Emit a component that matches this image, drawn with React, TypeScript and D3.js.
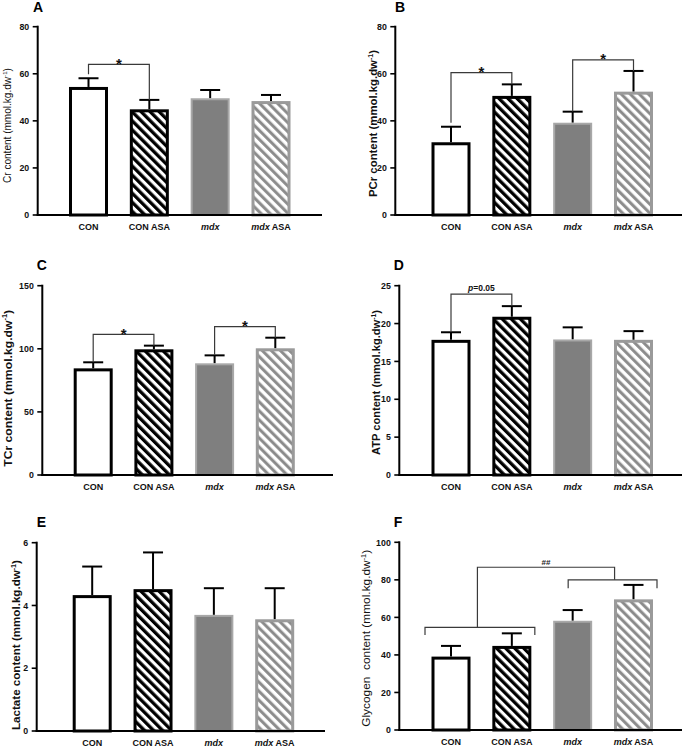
import React from "react";
import * as d3 from "d3";

const categories = ["CON", "CON ASA", "mdx", "mdx ASA"];

const crMean = [54.4, 44.9, 49.6, 48.4];
const crSem = [3.7, 4.0, 3.5, 2.6];
const pcrMean = [30.9, 50.6, 39.2, 52.4];
const pcrSem = [6.6, 4.9, 4.7, 8.8];
const tcrMean = [84.5, 99.6, 88.5, 100.4];
const tcrSem = [4.8, 2.9, 6.3, 8.4];
const atpMean = [17.85, 20.9, 17.9, 17.85];
const atpSem = [1.0, 1.4, 1.6, 1.15];
const lacMean = [4.33, 4.52, 3.7, 3.56];
const lacSem = [0.91, 1.17, 0.85, 0.99];
const glyMean = [39.1, 44.8, 58.2, 69.6];
const glySem = [5.7, 6.7, 5.7, 7.7];

const crTicks = [0, 20, 40, 60, 80];
const pcrTicks = [0, 20, 40, 60, 80];
const tcrTicks = [0, 50, 100, 150];
const atpTicks = [0, 5, 10, 15, 20, 25];
const lacTicks = [0, 2, 4, 6];
const glyTicks = [0, 20, 40, 60, 80, 100];

// pairwise significance brackets: [groupA, groupB, bracket value, left leg end, right leg end, label]
const crSig = [[0, 1, 64, 59.8, 48.9, "*"]];
const pcrSig = [
  [0, 1, 60.5, 39.2, 55.5, "*"],
  [2, 3, 65.9, 44.0, 61.2, "*"],
];
const tcrSig = [
  [0, 1, 111.5, 89.3, 102.5, "*"],
  [2, 3, 117.5, 95.2, 108.8, "*"],
];
const atpSig = [[0, 1, 23.9, 18.9, 22.4, "p=0.05"]];
const lacSig: any[] = [];
const glySig: any[] = [];
// grouped bracket for F: [lower group value, lower leg end, upper group value, upper leg end, connector value]
const glyGroupSig = [54.7, 50.6, 80.0, 75.5, 86.7];

const FONT = "'Liberation Sans', Arial, Helvetica, sans-serif";

type Panel = {
  letter: string;
  titleX: number;
  titleY: number;
  left: number;
  right: number;
  top: number;
  bottom: number;
  c0: number;
  c1: number;
  yMax: number;
  ticks: number[];
  mean: number[];
  sem: number[];
  sig: any[];
  label: string;
  labelX: number;
  labelY: number;
  labelSize: number;
  labelWeight: string;
  labelLen: number;
  xLabelY: number;
  group?: number[];
};

const panels: Panel[] = [
  { letter: "A", titleX: 33, titleY: 11.9, left: 37.7, right: 322, top: 26.7, bottom: 215, c0: 88.5, c1: 271, yMax: 80, ticks: crTicks, mean: crMean, sem: crSem, sig: crSig, label: "Cr content (mmol.kg.dw", labelX: 10.5, labelY: 125.5, labelSize: 10, labelWeight: "normal", labelLen: 115, xLabelY: 230 },
  { letter: "B", titleX: 395, titleY: 11.9, left: 395.3, right: 682, top: 26.7, bottom: 215, c0: 451, c1: 633.5, yMax: 80, ticks: pcrTicks, mean: pcrMean, sem: pcrSem, sig: pcrSig, label: "PCr content (mmol.kg.dw", labelX: 377, labelY: 123.5, labelSize: 11, labelWeight: "bold", labelLen: 147, xLabelY: 230 },
  { letter: "C", titleX: 36.7, titleY: 270.2, left: 42.3, right: 333, top: 285.7, bottom: 475, c0: 93.2, c1: 275.3, yMax: 150, ticks: tcrTicks, mean: tcrMean, sem: tcrSem, sig: tcrSig, label: "TCr content (mmol.kg.dw", labelX: 11.7, labelY: 388.3, labelSize: 11, labelWeight: "bold", labelLen: 157, xLabelY: 490 },
  { letter: "D", titleX: 393.7, titleY: 270.2, left: 399.3, right: 682, top: 285.7, bottom: 475, c0: 451, c1: 633.5, yMax: 25, ticks: atpTicks, mean: atpMean, sem: atpSem, sig: atpSig, label: "ATP content (mmol.kg.dw", labelX: 380.3, labelY: 382.5, labelSize: 11, labelWeight: "bold", labelLen: 145, xLabelY: 490 },
  { letter: "E", titleX: 36.7, titleY: 526.9, left: 36.7, right: 325, top: 542.7, bottom: 731, c0: 92.2, c1: 274.7, yMax: 6, ticks: lacTicks, mean: lacMean, sem: lacSem, sig: lacSig, label: "Lactate content (mmol.kg.dw", labelX: 20, labelY: 645, labelSize: 11, labelWeight: "bold", labelLen: 170, xLabelY: 746 },
  { letter: "F", titleX: 393.7, titleY: 526.9, left: 399.3, right: 682, top: 542.3, bottom: 730, c0: 451, c1: 633.5, yMax: 100, ticks: glyTicks, mean: glyMean, sem: glySem, sig: glySig, label: "Glycogen  content (mmol.kg.dw", labelX: 370.3, labelY: 638.3, labelSize: 11.5, labelWeight: "normal", labelLen: 177, xLabelY: 745, group: glyGroupSig },
];

const BAR_W = 39;
const CAP = 20;
const barStyles = [
  { fill: "#ffffff", stroke: "#000000", sw: 3 },
  { fill: "url(#hatchBlack)", stroke: "#000000", sw: 3 },
  { fill: "#7f7f7f", stroke: "#a8a8a8", sw: 2 },
  { fill: "url(#hatchGray)", stroke: "#9a9a9a", sw: 3 },
];

function XLabel({ name, x, y }: { name: string; x: number; y: number }) {
  const common = { x, y, textAnchor: "middle" as const, fontFamily: FONT, fontSize: 9, fontWeight: "bold" as const, fill: "#111" };
  if (name === "mdx") {
    return <text {...common}><tspan fontStyle="italic">mdx</tspan></text>;
  }
  if (name === "mdx ASA") {
    return <text {...common}><tspan fontStyle="italic">mdx</tspan> ASA</text>;
  }
  return <text {...common}>{name}</text>;
}

function PanelView({ p }: { p: Panel }) {
  const y = d3.scaleLinear().domain([0, p.yMax]).range([p.bottom, p.top]);
  const x = d3.scalePoint<string>().domain(categories).range([p.c0, p.c1]);
  const cx = (i: number) => x(categories[i]) as number;
  const bracketStroke = "#3a3a3a";
  return (
    <g>
      <text x={p.titleX} y={p.titleY} fontFamily={FONT} fontWeight="bold" fontSize={14} fill="#000">{p.letter}</text>
      {/* bars */}
      {categories.map((c, i) => {
        const st = barStyles[i];
        const xc = cx(i);
        const top = y(p.mean[i]);
        return (
          <g key={c}>
            <line x1={xc} x2={xc} y1={top} y2={y(p.mean[i] + p.sem[i])} stroke="#000" strokeWidth={2} />
            <line x1={xc - CAP / 2} x2={xc + CAP / 2} y1={y(p.mean[i] + p.sem[i])} y2={y(p.mean[i] + p.sem[i])} stroke="#000" strokeWidth={2} />
            <rect
              x={xc - BAR_W / 2 + st.sw / 2}
              y={top + st.sw / 2}
              width={BAR_W - st.sw}
              height={p.bottom - top - st.sw / 2}
              fill={st.fill}
              stroke={st.stroke}
              strokeWidth={st.sw}
            />
          </g>
        );
      })}
      {/* axes */}
      <line x1={p.left} x2={p.left} y1={p.top - 1} y2={p.bottom + 1} stroke="#000" strokeWidth={2} />
      <line x1={p.left - 1} x2={p.right} y1={p.bottom} y2={p.bottom} stroke="#000" strokeWidth={2} />
      {p.ticks.map((t) => (
        <g key={t}>
          <line x1={p.left - 5} x2={p.left} y1={y(t)} y2={y(t)} stroke="#000" strokeWidth={1.6} />
          <text x={p.left - 8.5} y={y(t) + 3.2} textAnchor="end" fontFamily={FONT} fontWeight="bold" fontSize={8.8} fill="#111">{t}</text>
        </g>
      ))}
      {categories.map((c, i) => (
        <XLabel key={c} name={c} x={cx(i)} y={p.xLabelY} />
      ))}
      {/* y label */}
      <text
        transform={`translate(${p.labelX},${p.labelY}) rotate(-90)`}
        textAnchor="middle"
        fontFamily={FONT}
        fontSize={p.labelSize}
        fontWeight={p.labelWeight}
        fill="#111"
        textLength={p.labelLen}
        lengthAdjust="spacingAndGlyphs"
        xmlSpace="preserve"
        style={{ whiteSpace: "pre" }}
      >
        {p.label}
        <tspan fontSize={p.labelSize * 0.62} dy={-p.labelSize * 0.4}>-1</tspan>
        <tspan dy={p.labelSize * 0.4}>)</tspan>
      </text>
      {/* significance brackets */}
      {p.sig.map((s, k) => {
        const [a, b, v, la, rb, lab] = s;
        const xa = cx(a);
        const xb = cx(b);
        const yy = y(v);
        const isStar = lab === "*";
        return (
          <g key={k}>
            <path d={`M${xa},${y(la)}V${yy}H${xb}V${y(rb)}`} fill="none" stroke={bracketStroke} strokeWidth={1.2} />
            {isStar ? (
              <text x={(xa + xb) / 2} y={yy + 4.5} textAnchor="middle" fontFamily={FONT} fontWeight="bold" fontSize={15} fill="#111">*</text>
            ) : (
              <text x={(xa + xb) / 2} y={yy - 3} textAnchor="middle" fontFamily={FONT} fontWeight="bold" fontSize={8.5} fill="#111">
                <tspan fontStyle="italic">p</tspan>=0.05
              </text>
            )}
          </g>
        );
      })}
      {p.group && (() => {
        const [lv, lend, uv, uend, cv] = p.group!;
        const l0 = cx(0) - 26;
        const l1 = cx(1) + 23;
        const u0 = cx(2) - 4.5;
        const u1 = cx(3) + 23.5;
        const lm = (l0 + l1) / 2 - 2.5;
        const um = (u0 + u1) / 2 + 2;
        return (
          <g>
            <path d={`M${l0},${y(lend)}V${y(lv)}H${l1}V${y(lend)}`} fill="none" stroke={bracketStroke} strokeWidth={1.2} />
            <path d={`M${u0},${y(uend)}V${y(uv)}H${u1}V${y(uend)}`} fill="none" stroke={bracketStroke} strokeWidth={1.2} />
            <path d={`M${lm},${y(lv)}V${y(cv)}H${um}V${y(uv)}`} fill="none" stroke={bracketStroke} strokeWidth={1.2} />
            <text x={(lm + um) / 2} y={y(cv) - 2} textAnchor="middle" fontFamily={FONT} fontWeight="bold" fontSize={8} fill="#222">##</text>
          </g>
        );
      })()}
    </g>
  );
}

export default function App() {
  return (
    <svg width={685} height={747} viewBox="0 0 685 747" style={{ position: "absolute", left: 0, top: 0, display: "block", background: "#fff" }}>
      <defs>
        <pattern id="hatchBlack" patternUnits="userSpaceOnUse" width={6.4} height={6.4} patternTransform="rotate(-45)">
          <rect width={6.4} height={6.4} fill="#fff" />
          <line x1={1.6} x2={1.6} y1={0} y2={6.4} stroke="#000" strokeWidth={3.4} />
        </pattern>
        <pattern id="hatchGray" patternUnits="userSpaceOnUse" width={6.4} height={6.4} patternTransform="rotate(-45)">
          <rect width={6.4} height={6.4} fill="#fff" />
          <line x1={1.6} x2={1.6} y1={0} y2={6.4} stroke="#8a8a8a" strokeWidth={3} />
        </pattern>
      </defs>
      <rect width={685} height={747} fill="#fff" />
      {panels.map((p) => (
        <PanelView key={p.letter} p={p} />
      ))}
    </svg>
  );
}
